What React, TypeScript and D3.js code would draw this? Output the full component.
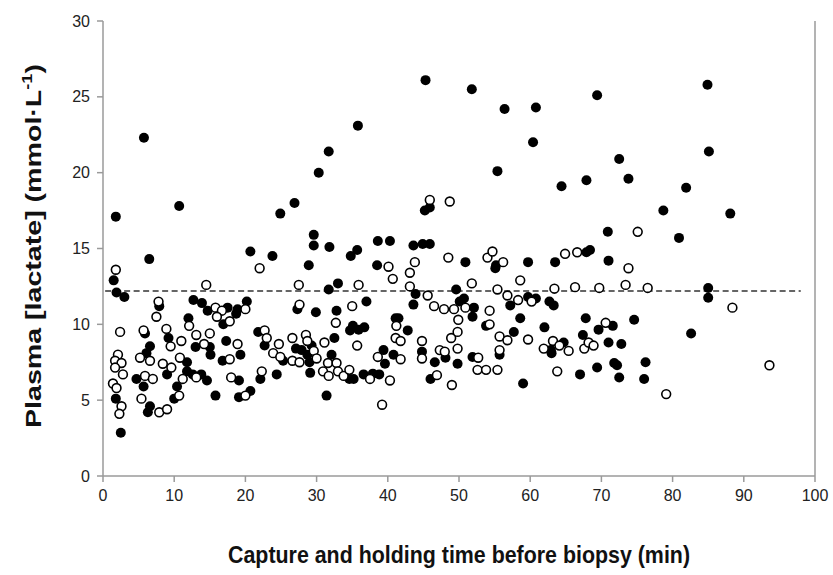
import React, { useRef, useEffect } from 'react';
import * as d3 from 'd3';

// [time (min), plasma lactate (mmol/L)]
const FILLED: [number, number][] = [
  [1.8, 17.1], [5.75, 22.3], [10.7, 17.8], [6.5, 14.3], [20.7, 14.8], [23.8, 14.5], [24.9, 17.3],
  [26.9, 18.0], [30.3, 20.0], [31.7, 21.4], [35.8, 23.1], [29.6, 15.9], [29.6, 15.2], [31.8, 15.1],
  [28.9, 13.9], [34.8, 14.5], [35.7, 14.9], [38.6, 15.5], [40.3, 15.5], [38.5, 13.9], [43.6, 15.2],
  [44.9, 15.3], [45.9, 15.3], [45.2, 17.5], [45.9, 17.7], [45.3, 26.1], [33.0, 12.7], [31.7, 12.3],
  [43.9, 12.0], [43.6, 11.3], [27.3, 11.0], [29.9, 10.8], [32.8, 10.9], [37.0, 11.5], [41.1, 10.4],
  [41.5, 10.4], [1.5, 12.9], [1.9, 12.1], [3.0, 11.8], [7.9, 11.2], [12.7, 11.6], [13.9, 11.4],
  [14.7, 10.9], [17.5, 11.1], [18.9, 11.0], [20.2, 11.5], [12.0, 10.4], [16.9, 10.0], [18.7, 10.7],
  [5.9, 9.4], [9.2, 9.1], [13.0, 8.5], [15.0, 8.5], [15.1, 8.0], [17.3, 8.9], [19.3, 8.0],
  [16.8, 7.6], [21.8, 9.5], [22.7, 8.6], [6.6, 8.55], [6.1, 8.1], [11.8, 7.5], [9.0, 6.7],
  [11.8, 6.9], [12.6, 6.7], [13.8, 6.7], [14.6, 6.3], [15.8, 5.3], [10.4, 5.9], [10.0, 5.1],
  [4.7, 6.4], [5.7, 5.9], [6.6, 4.6], [6.3, 4.2], [1.8, 5.1], [2.5, 2.85], [22.1, 6.4],
  [19.1, 6.3], [20.7, 5.6], [19.1, 5.2], [32.5, 9.1], [35.1, 9.9], [34.7, 9.6], [35.9, 9.65],
  [36.7, 9.8], [42.8, 9.6], [25.3, 7.6], [27.1, 8.4], [27.9, 8.3], [29.3, 8.6], [28.7, 8.0],
  [29.0, 7.5], [29.1, 6.8], [24.4, 6.7], [32.1, 8.0], [34.6, 6.4], [35.2, 6.4], [36.6, 6.7],
  [37.9, 6.75], [38.8, 6.7], [31.4, 5.3], [39.4, 8.3], [39.6, 7.4], [40.8, 8.0], [44.8, 8.2],
  [46.6, 7.5], [46.0, 6.4], [48.1, 7.8], [51.8, 25.5], [56.4, 24.2], [60.8, 24.3], [69.4, 25.1],
  [60.4, 22.0], [55.4, 20.1], [72.5, 20.9], [64.4, 19.1], [67.9, 19.5], [73.8, 19.6], [70.9, 16.1],
  [50.9, 14.1], [55.2, 13.9], [55.1, 13.7], [59.7, 14.1], [63.5, 14.1], [67.9, 14.75], [68.4, 14.9],
  [71.0, 14.2], [49.6, 12.3], [50.7, 11.7], [50.1, 11.5], [59.7, 11.8], [60.8, 11.7], [62.7, 11.5],
  [63.3, 11.25], [57.2, 11.25], [52.1, 11.1], [51.9, 10.5], [58.6, 10.4], [67.8, 10.4], [53.8, 9.9],
  [57.7, 9.5], [55.7, 8.0], [51.9, 7.85], [49.8, 7.4], [62.0, 9.8], [62.9, 8.3], [63.0, 8.1],
  [64.7, 8.8], [59.0, 6.1], [67.4, 9.3], [69.6, 9.65], [71.6, 9.9], [71.0, 8.8], [72.8, 8.7],
  [74.6, 10.3], [69.4, 7.15], [67.0, 6.7], [71.8, 7.45], [72.2, 7.3], [72.5, 6.5], [84.9, 25.8],
  [85.1, 21.4], [81.9, 19.0], [78.7, 17.5], [88.1, 17.3], [80.9, 15.7], [85.0, 12.4], [85.0, 11.75],
  [82.6, 9.4], [76.2, 7.5], [76.0, 6.4],
];

const OPEN: [number, number][] = [
  [1.8, 13.6], [22.0, 13.7], [14.5, 12.6], [7.8, 11.5], [15.8, 11.1], [16.7, 10.9], [20.0, 11.0],
  [7.5, 10.5], [16.0, 10.5], [17.8, 10.2], [12.1, 9.9], [2.4, 9.5], [5.7, 9.6], [8.9, 9.7],
  [9.5, 8.55], [11.0, 8.9], [13.1, 9.3], [15.0, 9.4], [14.2, 8.7], [18.9, 8.7], [17.8, 7.7],
  [22.7, 9.6], [23.0, 9.1], [23.9, 8.1], [5.2, 7.8], [6.6, 7.6], [8.4, 7.4], [9.6, 7.15],
  [10.8, 7.8], [11.2, 6.4], [13.1, 6.5], [5.9, 6.6], [7.0, 6.4], [5.4, 5.1], [7.9, 4.2],
  [9.0, 4.4], [10.7, 5.3], [2.1, 8.0], [1.7, 7.6], [2.6, 7.45], [1.7, 7.15], [2.8, 6.7],
  [1.4, 6.1], [1.9, 5.8], [2.6, 4.6], [2.3, 4.1], [22.3, 6.9], [18.0, 6.5], [20.0, 5.3],
  [45.9, 18.2], [48.7, 18.1], [27.5, 12.6], [35.9, 12.6], [40.1, 13.8], [43.8, 14.1], [40.7, 13.0],
  [43.1, 13.4], [43.1, 12.5], [45.6, 11.9], [46.5, 11.2], [47.9, 11.0], [27.6, 11.3], [35.0, 11.2],
  [32.7, 10.1], [35.7, 8.6], [41.2, 9.9], [41.1, 9.1], [41.8, 8.9], [44.8, 8.9], [48.9, 9.1],
  [24.7, 8.7], [24.9, 7.85], [26.6, 9.1], [28.5, 9.3], [28.7, 8.9], [29.6, 8.25], [26.6, 7.6],
  [27.6, 7.5], [30.0, 7.75], [31.1, 8.8], [31.6, 7.45], [30.9, 6.9], [31.7, 6.6], [32.8, 7.45],
  [33.0, 6.9], [33.8, 6.6], [34.6, 7.0], [37.5, 6.4], [40.3, 6.3], [39.2, 4.7], [38.6, 7.85],
  [41.8, 7.7], [44.8, 7.75], [46.9, 6.65], [47.3, 8.3], [48.0, 8.2], [49.0, 6.0], [48.5, 14.4],
  [54.0, 14.4], [54.7, 14.8], [56.2, 14.1], [64.9, 14.65], [66.6, 14.75], [51.8, 12.7], [58.6, 12.9],
  [55.4, 12.3], [63.4, 12.35], [66.3, 12.45], [69.7, 12.4], [73.4, 12.6], [56.8, 11.9], [58.3, 11.6],
  [60.2, 11.5], [50.9, 11.1], [49.3, 11.0], [54.3, 10.9], [49.9, 10.3], [49.8, 9.5], [49.8, 8.4],
  [54.3, 10.0], [55.7, 9.2], [56.8, 8.95], [55.7, 8.3], [52.7, 7.8], [52.6, 7.0], [53.8, 7.0],
  [55.4, 7.0], [59.7, 9.0], [61.9, 8.4], [63.2, 8.9], [64.1, 8.6], [65.4, 8.25], [63.8, 6.9],
  [67.6, 8.4], [68.2, 8.8], [68.9, 8.6], [70.6, 10.1], [75.1, 16.1], [73.8, 13.7], [76.5, 12.4],
  [88.4, 11.1], [79.1, 5.4], [93.6, 7.3],
];

const THRESHOLD = 12.2;
const THRESHOLD_SPAN = [0.3, 98];
const X_TICKS = [0, 10, 20, 30, 40, 50, 60, 70, 80, 90, 100];
const Y_TICKS = [0, 5, 10, 15, 20, 25, 30];

export default function App() {
  const svgRef = useRef<SVGSVGElement>(null);

  useEffect(() => {
    if (!svgRef.current) return;
    const width = 833, height = 575;
    const svg = d3.select(svgRef.current);
    svg.selectAll('*').remove();
    svg.attr('width', width).attr('height', height).attr('viewBox', `0 0 ${width} ${height}`);
    svg.append('rect').attr('width', width).attr('height', height).attr('fill', '#fff');

    const x = d3.scaleLinear().domain([0, 100]).range([103, 815]);
    const y = d3.scaleLinear().domain([0, 30]).range([476, 21]);
    const font = '"Liberation Sans", Arial, sans-serif';
    const axisColor = '#9a9a9a';

    // axes (left, bottom, right border)
    svg.append('line').attr('x1', x(0)).attr('x2', x(0)).attr('y1', y(30)).attr('y2', y(0)).attr('stroke', axisColor).attr('stroke-width', 1.5);
    svg.append('line').attr('x1', x(0)).attr('x2', x(100)).attr('y1', y(0)).attr('y2', y(0)).attr('stroke', axisColor).attr('stroke-width', 1.5);
    svg.append('line').attr('x1', x(100)).attr('x2', x(100)).attr('y1', y(30)).attr('y2', y(0)).attr('stroke', axisColor).attr('stroke-width', 1.5);

    Y_TICKS.forEach((t) => {
      svg.append('line').attr('x1', x(0) - 6).attr('x2', x(0)).attr('y1', y(t)).attr('y2', y(t)).attr('stroke', axisColor).attr('stroke-width', 1.5);
      svg.append('text').attr('x', x(0) - 13).attr('y', y(t)).attr('text-anchor', 'end').attr('dominant-baseline', 'central')
        .attr('font-family', font).attr('font-size', '16px').attr('fill', '#222').text(t);
    });
    X_TICKS.forEach((t) => {
      svg.append('line').attr('x1', x(t)).attr('x2', x(t)).attr('y1', y(0)).attr('y2', y(0) + 6).attr('stroke', axisColor).attr('stroke-width', 1.5);
      svg.append('text').attr('x', x(t)).attr('y', y(0) + 19).attr('text-anchor', 'middle').attr('dominant-baseline', 'central')
        .attr('font-family', font).attr('font-size', '16px').attr('fill', '#222').text(t);
    });

    // threshold
    svg.append('line').attr('x1', x(THRESHOLD_SPAN[0])).attr('x2', x(THRESHOLD_SPAN[1])).attr('y1', y(THRESHOLD)).attr('y2', y(THRESHOLD))
      .attr('stroke', '#333').attr('stroke-width', 1.6).attr('stroke-dasharray', '6,3.5');

    // points
    svg.append('g').selectAll('circle').data(FILLED).enter().append('circle')
      .attr('cx', d => x(d[0])).attr('cy', d => y(d[1])).attr('r', 5).attr('fill', '#000');
    svg.append('g').selectAll('circle').data(OPEN).enter().append('circle')
      .attr('cx', d => x(d[0])).attr('cy', d => y(d[1])).attr('r', 4.4).attr('fill', '#fff').attr('stroke', '#000').attr('stroke-width', 1.6);

    // axis titles
    svg.append('text').attr('x', 459).attr('y', 563).attr('text-anchor', 'middle').attr('font-family', font).attr('font-weight', 'bold')
      .attr('font-size', '24px').attr('fill', '#111').attr('textLength', 462).attr('lengthAdjust', 'spacingAndGlyphs')
      .text('Capture and holding time before biopsy (min)');
    const yt = svg.append('text').attr('transform', 'translate(41,246) rotate(-90) scale(1.3,1)').attr('text-anchor', 'middle')
      .attr('font-family', font).attr('font-weight', 'bold').attr('font-size', '22px').attr('fill', '#111');
    yt.append('tspan').text('Plasma [lactate] (mmol·L');
    yt.append('tspan').attr('font-size', '14px').attr('dy', -9).text('-1');
    yt.append('tspan').attr('dy', 9).text(')');
  }, []);

  return (
    <div style={{ position: 'absolute', left: 0, top: 0 }}>
      <svg ref={svgRef} />
    </div>
  );
}
